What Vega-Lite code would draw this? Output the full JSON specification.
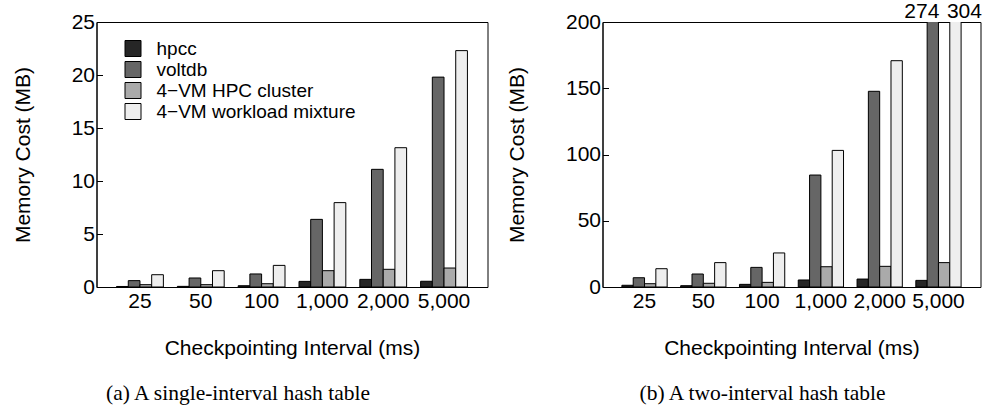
{
  "$schema": "https://vega.github.io/schema/vega-lite/v6.json",
  "padding": {"left": 11.5, "top": 0, "right": 0, "bottom": 0},
  "spacing": 115,
  "bounds": "flush",
  "config": {
    "font": "Liberation Sans",
    "view": {"stroke": "black", "strokeWidth": 1},
    "axis": {"domainColor": "black", "tickColor": "black", "labelColor": "black", "titleColor": "black", "labelFont": "Liberation Sans", "titleFont": "Liberation Sans", "labelFontSize": 21, "titleFontSize": 21, "titleFontWeight": "normal", "grid": false},
    "legend": {"labelFont": "Liberation Sans", "labelFontSize": 19, "labelColor": "black", "labelLimit": 400}
  },
  "datasets": {
    "a": [
      {"interval": "25", "series": "hpcc", "value": 0.05},
      {"interval": "25", "series": "voltdb", "value": 0.6},
      {"interval": "25", "series": "4−VM HPC cluster", "value": 0.22},
      {"interval": "25", "series": "4−VM workload mixture", "value": 1.16},
      {"interval": "50", "series": "hpcc", "value": 0.06},
      {"interval": "50", "series": "voltdb", "value": 0.85},
      {"interval": "50", "series": "4−VM HPC cluster", "value": 0.22},
      {"interval": "50", "series": "4−VM workload mixture", "value": 1.54},
      {"interval": "100", "series": "hpcc", "value": 0.12},
      {"interval": "100", "series": "voltdb", "value": 1.23},
      {"interval": "100", "series": "4−VM HPC cluster", "value": 0.31},
      {"interval": "100", "series": "4−VM workload mixture", "value": 2.04},
      {"interval": "1,000", "series": "hpcc", "value": 0.53},
      {"interval": "1,000", "series": "voltdb", "value": 6.38},
      {"interval": "1,000", "series": "4−VM HPC cluster", "value": 1.54},
      {"interval": "1,000", "series": "4−VM workload mixture", "value": 7.96},
      {"interval": "2,000", "series": "hpcc", "value": 0.72},
      {"interval": "2,000", "series": "voltdb", "value": 11.1},
      {"interval": "2,000", "series": "4−VM HPC cluster", "value": 1.67},
      {"interval": "2,000", "series": "4−VM workload mixture", "value": 13.14},
      {"interval": "5,000", "series": "hpcc", "value": 0.54},
      {"interval": "5,000", "series": "voltdb", "value": 19.8},
      {"interval": "5,000", "series": "4−VM HPC cluster", "value": 1.79},
      {"interval": "5,000", "series": "4−VM workload mixture", "value": 22.3}
    ],
    "b": [
      {"interval": "25", "series": "hpcc", "value": 1.3},
      {"interval": "25", "series": "voltdb", "value": 7.0},
      {"interval": "25", "series": "4−VM HPC cluster", "value": 2.5},
      {"interval": "25", "series": "4−VM workload mixture", "value": 13.8},
      {"interval": "50", "series": "hpcc", "value": 1.0},
      {"interval": "50", "series": "voltdb", "value": 9.8},
      {"interval": "50", "series": "4−VM HPC cluster", "value": 2.8},
      {"interval": "50", "series": "4−VM workload mixture", "value": 18.4},
      {"interval": "100", "series": "hpcc", "value": 2.0},
      {"interval": "100", "series": "voltdb", "value": 14.8},
      {"interval": "100", "series": "4−VM HPC cluster", "value": 3.5},
      {"interval": "100", "series": "4−VM workload mixture", "value": 25.7},
      {"interval": "1,000", "series": "hpcc", "value": 5.3},
      {"interval": "1,000", "series": "voltdb", "value": 84.5},
      {"interval": "1,000", "series": "4−VM HPC cluster", "value": 15.3},
      {"interval": "1,000", "series": "4−VM workload mixture", "value": 103.1},
      {"interval": "2,000", "series": "hpcc", "value": 6.0},
      {"interval": "2,000", "series": "voltdb", "value": 147.7},
      {"interval": "2,000", "series": "4−VM HPC cluster", "value": 15.6},
      {"interval": "2,000", "series": "4−VM workload mixture", "value": 170.8},
      {"interval": "5,000", "series": "hpcc", "value": 5.0},
      {"interval": "5,000", "series": "voltdb", "value": 274},
      {"interval": "5,000", "series": "4−VM HPC cluster", "value": 18.4},
      {"interval": "5,000", "series": "4−VM workload mixture", "value": 304}
    ]
  },
  "hconcat": [
    {
      "width": 391,
      "height": 265,
      "data": {"name": "a"},
      "title": {"text": "(a) A single-interval hash table", "orient": "bottom", "font": "Liberation Serif", "fontSize": 21.5, "fontWeight": "normal", "color": "black", "anchor": "middle", "frame": "group", "dx": -54, "offset": 25},
      "mark": {"type": "bar", "stroke": "black", "strokeWidth": 1},
      "encoding": {
        "x": {"field": "interval", "type": "nominal", "sort": ["25", "50", "100", "1,000", "2,000", "5,000"], "scale": {"paddingInner": 0.23, "paddingOuter": 0.33}, "axis": {"title": "Checkpointing Interval (ms)", "labelAngle": 0, "ticks": false, "labelPadding": 3, "titlePadding": 26}},
        "xOffset": {"field": "series", "type": "nominal", "sort": ["hpcc", "voltdb", "4−VM HPC cluster", "4−VM workload mixture"], "scale": {"paddingInner": 0, "paddingOuter": 0}},
        "y": {"field": "value", "type": "quantitative", "scale": {"domain": [0, 25]}, "axis": {"title": "Memory Cost (MB)", "values": [0, 5, 10, 15, 20, 25], "tickSize": -6, "labelPadding": 8, "titlePadding": 37.5}},
        "fill": {"field": "series", "type": "nominal", "sort": ["hpcc", "voltdb", "4−VM HPC cluster", "4−VM workload mixture"], "scale": {"domain": ["hpcc", "voltdb", "4−VM HPC cluster", "4−VM workload mixture"], "range": ["#262626", "#666666", "#aaaaaa", "#eeeeee"]}, "legend": {"title": null, "orient": "none", "legendX": 27, "legendY": 17, "symbolType": "square", "symbolSize": 256, "symbolStrokeColor": "black", "symbolStrokeWidth": 1, "symbolOpacity": 1, "labelOffset": 14, "rowPadding": 0, "padding": 0}}
      }
    },
    {
      "width": 378,
      "height": 265,
      "title": {"text": "(b) A two-interval hash table", "orient": "bottom", "font": "Liberation Serif", "fontSize": 21.5, "fontWeight": "normal", "color": "black", "anchor": "middle", "frame": "group", "dx": -29, "offset": 25},
      "layer": [
        {
          "data": {"name": "b"},
          "mark": {"type": "bar", "stroke": "black", "strokeWidth": 1, "clip": true},
          "encoding": {
            "x": {"field": "interval", "type": "nominal", "sort": ["25", "50", "100", "1,000", "2,000", "5,000"], "scale": {"paddingInner": 0.23, "paddingOuter": 0.33}, "axis": {"title": "Checkpointing Interval (ms)", "labelAngle": 0, "ticks": false, "labelPadding": 3, "titlePadding": 26}},
            "xOffset": {"field": "series", "type": "nominal", "sort": ["hpcc", "voltdb", "4−VM HPC cluster", "4−VM workload mixture"], "scale": {"paddingInner": 0, "paddingOuter": 0}},
            "y": {"field": "value", "type": "quantitative", "scale": {"domain": [0, 200]}, "axis": {"title": "Memory Cost (MB)", "values": [0, 50, 100, 150, 200], "tickSize": -6, "labelPadding": 8, "titlePadding": 37.5}},
            "fill": {"field": "series", "type": "nominal", "sort": ["hpcc", "voltdb", "4−VM HPC cluster", "4−VM workload mixture"], "scale": {"domain": ["hpcc", "voltdb", "4−VM HPC cluster", "4−VM workload mixture"], "range": ["#262626", "#666666", "#aaaaaa", "#eeeeee"]}, "legend": null}
          }
        },
        {
          "data": {"name": "b"},
          "transform": [{"filter": "datum.interval === '5,000' && datum.series === 'voltdb'"}],
          "mark": {"type": "text", "fontSize": 21, "color": "black", "baseline": "bottom", "dx": -11, "dy": 0},
          "encoding": {
            "x": {"field": "interval", "type": "nominal", "sort": ["25", "50", "100", "1,000", "2,000", "5,000"]},
            "xOffset": {"field": "series", "type": "nominal", "sort": ["hpcc", "voltdb", "4−VM HPC cluster", "4−VM workload mixture"]},
            "y": {"datum": 200},
            "text": {"field": "value", "type": "quantitative"}
          }
        },
        {
          "data": {"name": "b"},
          "transform": [{"filter": "datum.interval === '5,000' && datum.series === '4−VM workload mixture'"}],
          "mark": {"type": "text", "fontSize": 21, "color": "black", "baseline": "bottom", "dx": 9, "dy": 0},
          "encoding": {
            "x": {"field": "interval", "type": "nominal", "sort": ["25", "50", "100", "1,000", "2,000", "5,000"]},
            "xOffset": {"field": "series", "type": "nominal", "sort": ["hpcc", "voltdb", "4−VM HPC cluster", "4−VM workload mixture"]},
            "y": {"datum": 200},
            "text": {"field": "value", "type": "quantitative"}
          }
        }
      ]
    }
  ],
  "resolve": {"scale": {"fill": "independent", "x": "independent", "y": "independent", "xOffset": "independent"}, "legend": {"fill": "independent"}}
}
